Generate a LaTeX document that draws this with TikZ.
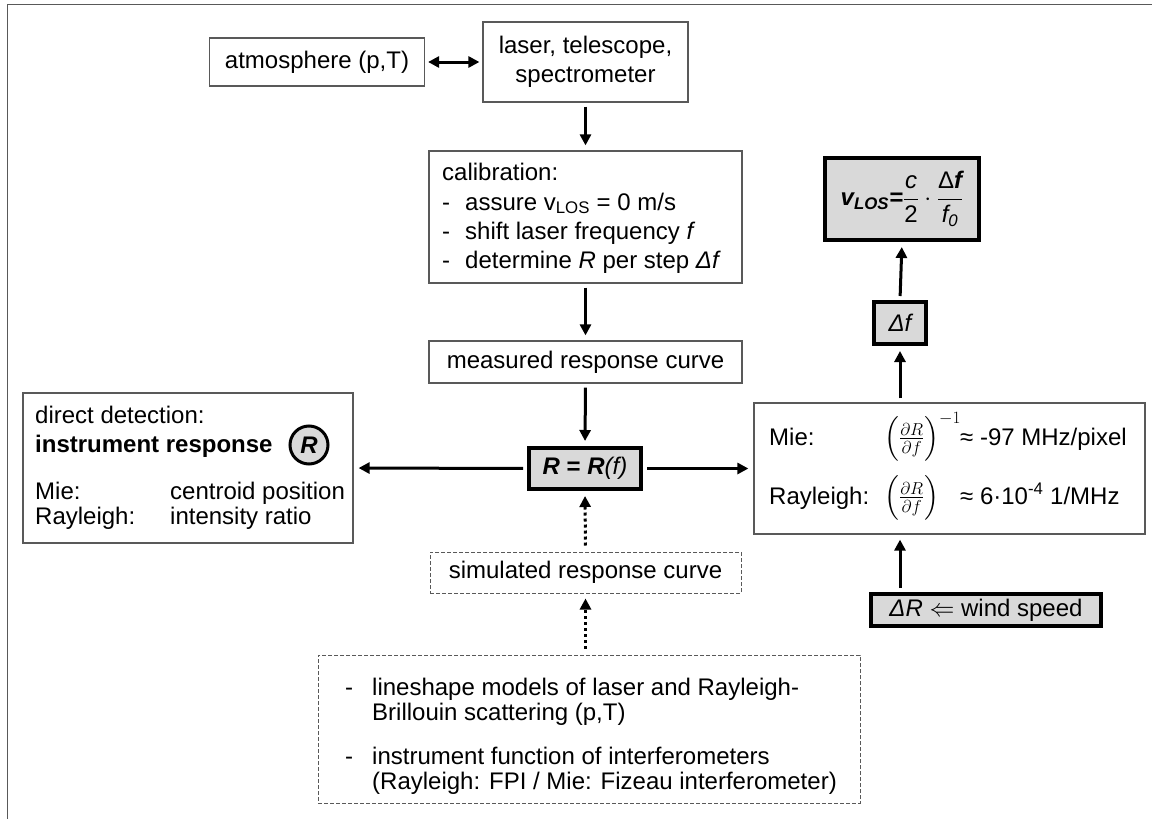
\documentclass[tikz,border=0pt]{standalone}
\usepackage{amsmath}
\usepackage{fontspec}
\setmainfont{Liberation Sans}
\usetikzlibrary{arrows.meta}
\definecolor{boxgray}{HTML}{D9D9D9}
\definecolor{edgegray}{HTML}{595959}
\begin{document}
\begin{tikzpicture}[x=1pt,y=-1pt,
  every node/.style={font=\fontsize{24}{29}\selectfont, inner sep=0pt},
  thinbox/.style={draw=edgegray, line width=1.2pt, fill=white},
  thickbox/.style={draw=black, line width=4pt, fill=boxgray},
  dashbox/.style={draw=edgegray, line width=1pt, dash pattern=on 4pt off 2pt},
  tip/.style={-{Triangle[length=11pt,width=11pt]}},
  arr/.style={line width=3pt, tip, shorten >=5pt, shorten <=4pt},
  darr/.style={line width=3pt, {Triangle[length=11pt,width=11pt]}-{Triangle[length=11pt,width=11pt]}, shorten >=3pt, shorten <=3pt},
  dotarr/.style={line width=3pt, dash pattern=on 3pt off 3pt, tip, shorten >=5pt, shorten <=6pt},
  txt/.style={anchor=base west},
]
\useasboundingbox (0,0) rectangle (1152,819);
\draw[edgegray, line width=1pt] (7,819) -- (7,4) -- (1152,4);

% top row
\node[thinbox, minimum width=215pt, minimum height=48pt] (atm) at (317,62) {atmosphere (p,T)};
\node[thinbox, minimum width=205pt, minimum height=80pt, align=center] (laser) at (585.5,62) {laser, telescope,\\spectrometer};

% calibration
\node[thinbox, minimum width=313pt, minimum height=132pt] (calib) at (585.5,217) {};
\node[txt] (cal0) at (442,180) {calibration:};
\node[txt] (cald1) at (442,210) {-};
\node[txt] (cal1) at (465,210) {assure v\textsubscript{LOS} = 0 m/s};
\node[txt] (cald2) at (442,239) {-};
\node[txt] (cal2) at (465,239) {shift laser frequency \textit{f}};
\node[txt] (cald3) at (442,268) {-};
\node[txt] (cal3) at (465,268) {determine \textit{R} per step \textit{Δf}};

\node[thinbox, minimum width=313pt, minimum height=42pt] (meas) at (585.5,362) {measured response curve};

\node[thickbox, minimum width=112pt, minimum height=41pt] (R) at (585,468.5) {\textbf{\textit{R}} \textbf{=} \textbf{\textit{R}}\textit{(f)}};

% left box
\node[thinbox, minimum width=330pt, minimum height=150pt] (left) at (188,468) {};
\node[txt] (l0) at (35,423) {direct detection:};
\node[txt] (l1) at (35,452) {\bfseries instrument response};
\node[circle, draw=black, line width=3pt, fill=boxgray, minimum size=38pt] (circR) at (309,445) {\bfseries\itshape R};
\node[txt] (l2a) at (35,499) {Mie:};
\node[txt] (l2b) at (170,499) {centroid position};
\node[txt] (l3a) at (35,524) {Rayleigh:};
\node[txt] (l3b) at (170,524) {intensity ratio};

% right box
\node[thinbox, minimum width=391pt, minimum height=131pt] (right) at (949.5,468.5) {};
\node[txt] (r1a) at (769,445) {Mie:};
\node[txt] (r1b) at (884,445) {$\Bigl(\frac{\partial R}{\partial f}\Bigr)^{-1}$};
\node[txt] (r1c) at (960,445) {≈ -97 MHz/pixel};
\node[txt] (r2a) at (769,504) {Rayleigh:};
\node[txt] (r2b) at (884,504) {$\Bigl(\frac{\partial R}{\partial f}\Bigr)$};
\node[txt] (r2c) at (960,504) {≈ 6·10\textsuperscript{-4} 1/MHz};

\node[thickbox, minimum width=154pt, minimum height=82pt] (vlos) at (902,199)
  {{\bfseries\itshape v\textsubscript{LOS}=}$\displaystyle\frac{\text{\itshape c}}{\text{2}}\cdot\frac{\text{Δ\bfseries\itshape f}}{\text{\itshape f\textsubscript{0}}}$};
\node[thickbox, minimum width=52pt, minimum height=42pt] (df) at (900,323) {\itshape Δf};
\node[thickbox, minimum width=230pt, minimum height=32pt] (dR) at (986,610) {\textit{ΔR} $\Leftarrow$ wind speed};

% simulated
\node[dashbox, minimum width=311pt, minimum height=41pt] (sim) at (585.5,572.5) {simulated response curve};
\node[dashbox, minimum width=542pt, minimum height=148pt] (bot) at (589,729) {};
\node[txt] (bd1) at (345,695) {-};
\node[txt] (b1) at (372,695) {lineshape models of laser and Rayleigh-};
\node[txt] (b2) at (372,720) {Brillouin scattering (p,T)};
\node[txt] (bd2) at (345,764) {-};
\node[txt] (b3) at (372,764) {instrument function of interferometers};
\node[txt] (b4) at (372,789) {(Rayleigh: FPI / Mie: Fizeau interferometer)};

% connectors
\draw[darr] (atm.east) -- (laser.west);
\draw[arr] (laser.south) -- (calib.north);
\draw[arr] (calib.south) -- (meas.north);
\draw[arr] (meas.south) -- (R.north);
\draw[arr] (R.west) -- (left.east);
\draw[arr] (R.east) -- (right.west);
\draw[dotarr] (sim.north) -- (R.south);
\draw[dotarr] (bot.north -| sim.south) -- (sim.south);
\draw[arr] (right.north -| df.south) -- (df.south);
\draw[arr] (df.north) -- (vlos.south);
\draw[arr] (dR.north -| df.south) -- (right.south -| df.south);
\end{tikzpicture}
\end{document}
